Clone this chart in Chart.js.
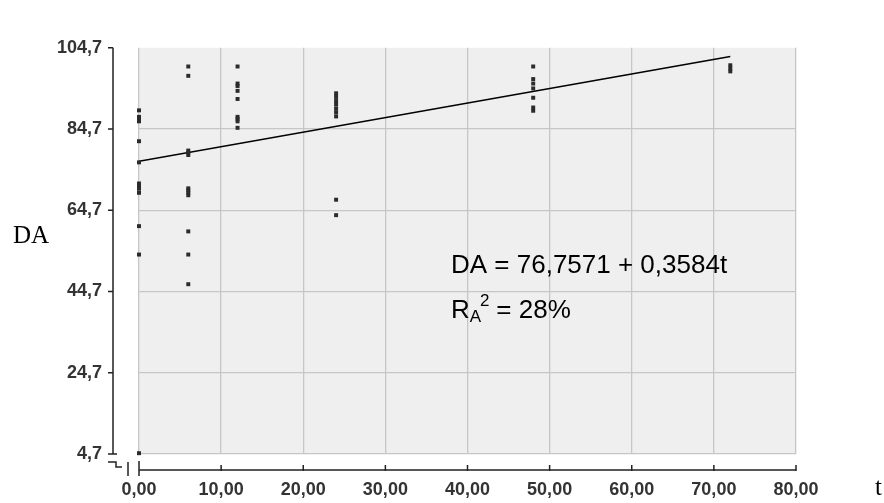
<!DOCTYPE html>
<html>
<head>
<meta charset="utf-8">
<script src="https://cdn.jsdelivr.net/npm/chart.js@4/dist/chart.umd.min.js"></script>
<style>
  body { margin: 0; background: #fff; }
  #da-chart { display: block; }
</style>
</head>
<body>
<canvas id="da-chart" width="884" height="503"></canvas>
<script>
const times = [0, 6, 12, 24, 48, 72];
const daAt0 = [89.3, 87.7, 87.2, 86.6, 81.7, 76.5, 71.3, 70.7, 70.0, 69.0, 60.8, 53.8, 4.9];
const daAt6 = [100.1, 97.8, 79.4, 78.9, 78.3, 70.1, 69.6, 69.0, 68.4, 59.5, 53.8, 46.5];
const daAt12 = [100.1, 95.9, 95.3, 94.1, 92.1, 87.7, 87.2, 86.6, 85.0];
const daAt24 = [93.5, 92.6, 91.6, 90.7, 89.7, 88.8, 87.8, 67.3, 63.5];
const daAt48 = [100.1, 97.0, 95.9, 94.7, 92.4, 90.0, 89.2];
const daAt72 = [100.4, 99.6, 98.9];

// fitted line end points
const fitT = [0, 72];
const fitDA = [76.76, 102.56];

const xTicks = [0, 10, 20, 30, 40, 50, 60, 70, 80];
const xTickLabels = ["0,00", "10,00", "20,00", "30,00", "40,00", "50,00", "60,00", "70,00", "80,00"];
const yTicks = [4.7, 24.7, 44.7, 64.7, 84.7, 104.7];
const yTickLabels = ["4,7", "24,7", "44,7", "64,7", "84,7", "104,7"];

const equationText = "DA = 76,7571 + 0,3584t";
const r2Text = " = 28%";

const daChartCanvas = document.getElementById("da-chart").getContext("2d");

const columns = [daAt0, daAt6, daAt12, daAt24, daAt48, daAt72];
const scatterPoints = [];
columns.forEach((col, i) => {
  col.forEach((v) => scatterPoints.push({ x: times[i], y: v }));
});

const fitPoints = fitT.map((t, i) => ({ x: t, y: fitDA[i] }));

//plot background + hand drawn axes and texts
const decorPlugin = {
  id: "decor",
  beforeDraw(chart) {
    const { ctx, chartArea } = chart;
    ctx.save();
    ctx.fillStyle = "#efefef";
    ctx.fillRect(chartArea.left, chartArea.top,
      chartArea.right - chartArea.left, chartArea.bottom - chartArea.top);
    ctx.restore();
  },
  afterDraw(chart) {
    const { ctx, chartArea, scales } = chart;
    const axisX = chartArea.left - 26;
    const axisY = chartArea.bottom + 16;

    ctx.save();
    ctx.strokeStyle = "#222";
    ctx.lineWidth = 1.5;

    // y axis
    ctx.beginPath();
    ctx.moveTo(axisX, chartArea.top);
    ctx.lineTo(axisX, chartArea.bottom);
    yTicks.forEach((v) => {
      const py = scales.y.getPixelForValue(v);
      ctx.moveTo(axisX - 5, py);
      ctx.lineTo(axisX, py);
    });
    ctx.moveTo(axisX, chartArea.bottom);
    ctx.lineTo(axisX + 4, chartArea.bottom);
    ctx.stroke();

    // axis break marks
    ctx.beginPath();
    ctx.moveTo(axisX - 5, chartArea.bottom + 8);
    ctx.lineTo(axisX + 3, chartArea.bottom + 8);
    ctx.lineTo(axisX + 3, chartArea.bottom + 13);
    ctx.lineTo(axisX + 9, chartArea.bottom + 13);
    ctx.moveTo(axisX + 15, chartArea.bottom + 8);
    ctx.lineTo(axisX + 15, chartArea.bottom + 22);
    ctx.stroke();

    // x axis
    ctx.beginPath();
    ctx.moveTo(chartArea.left, axisY);
    ctx.lineTo(chartArea.right, axisY);
    xTicks.forEach((v, i) => {
      const px = scales.x.getPixelForValue(v);
      ctx.moveTo(px, i === 0 ? axisY - 9 : axisY - 5);
      ctx.lineTo(px, i === 0 ? axisY + 6 : axisY + 1);
    });
    ctx.stroke();

    // axis titles
    ctx.fillStyle = "#000";
    ctx.textBaseline = "alphabetic";
    ctx.font = "25px 'Liberation Serif'";
    ctx.fillText("DA", 13, 243);
    ctx.fillText("t", 875, 495);

    // equation
    ctx.font = "26px 'Liberation Sans'";
    ctx.fillText(equationText, 451, 273);
    ctx.fillText("R", 451, 318);
    const rW = ctx.measureText("R").width;
    ctx.font = "17px 'Liberation Sans'";
    ctx.fillText("A", 451 + rW, 322);
    const aW = ctx.measureText("A").width;
    ctx.fillText("2", 451 + rW + aW - 1, 306);
    ctx.font = "26px 'Liberation Sans'";
    ctx.fillText(r2Text, 451 + rW + aW + 8, 318);
    ctx.restore();
  },
};

const tickFont = { family: "'Liberation Sans'", size: 18, weight: "bold" };

const daConfig = {
  type: "scatter",
  data: {
    datasets: [
      {
        data: scatterPoints,
        pointStyle: "rect",
        pointRadius: 2.8,
        pointBorderWidth: 0,
        backgroundColor: "#2b2b2b",
        borderColor: "#2b2b2b",
        clip: false,
      },
      {
        type: "line",
        data: fitPoints,
        borderColor: "#000",
        borderWidth: 1.6,
        pointRadius: 0,
        fill: false,
      },
    ],
  },
  options: {
    responsive: false,
    animation: false,
    layout: {
      padding: { left: 0, right: 88, top: 23, bottom: 0 },
    },
    plugins: {
      legend: { display: false },
      tooltip: { enabled: false },
    },
    scales: {
      x: {
        type: "linear",
        min: 0,
        max: 80,
        afterBuildTicks: (scale) => {
          scale.ticks = xTicks.map((v) => ({ value: v }));
        },
        afterFit: (scale) => {
          scale.height = 49;
        },
        border: { display: false },
        grid: {
          color: "#c6c6c6",
          lineWidth: 1.3,
          drawTicks: false,
        },
        ticks: {
          padding: 25,
          color: "#333",
          font: tickFont,
          maxRotation: 0,
          autoSkip: false,
          callback: (value) => xTickLabels[xTicks.indexOf(value)],
        },
      },
      y: {
        type: "linear",
        min: 4.7,
        max: 104.7,
        afterBuildTicks: (scale) => {
          scale.ticks = yTicks.map((v) => ({ value: v }));
        },
        afterFit: (scale) => {
          scale.width = 139;
        },
        border: { display: false },
        grid: {
          color: (c) => (c.index === yTicks.length - 1 ? "rgba(0,0,0,0)" : "#c6c6c6"),
          lineWidth: 1.3,
          drawTicks: false,
        },
        ticks: {
          padding: 37,
          color: "#333",
          font: tickFont,
          autoSkip: false,
          callback: (value) => yTickLabels[yTicks.indexOf(value)],
        },
      },
    },
  },
  plugins: [decorPlugin],
};

const daChart = new Chart(daChartCanvas, daConfig);
</script>
</body>
</html>
